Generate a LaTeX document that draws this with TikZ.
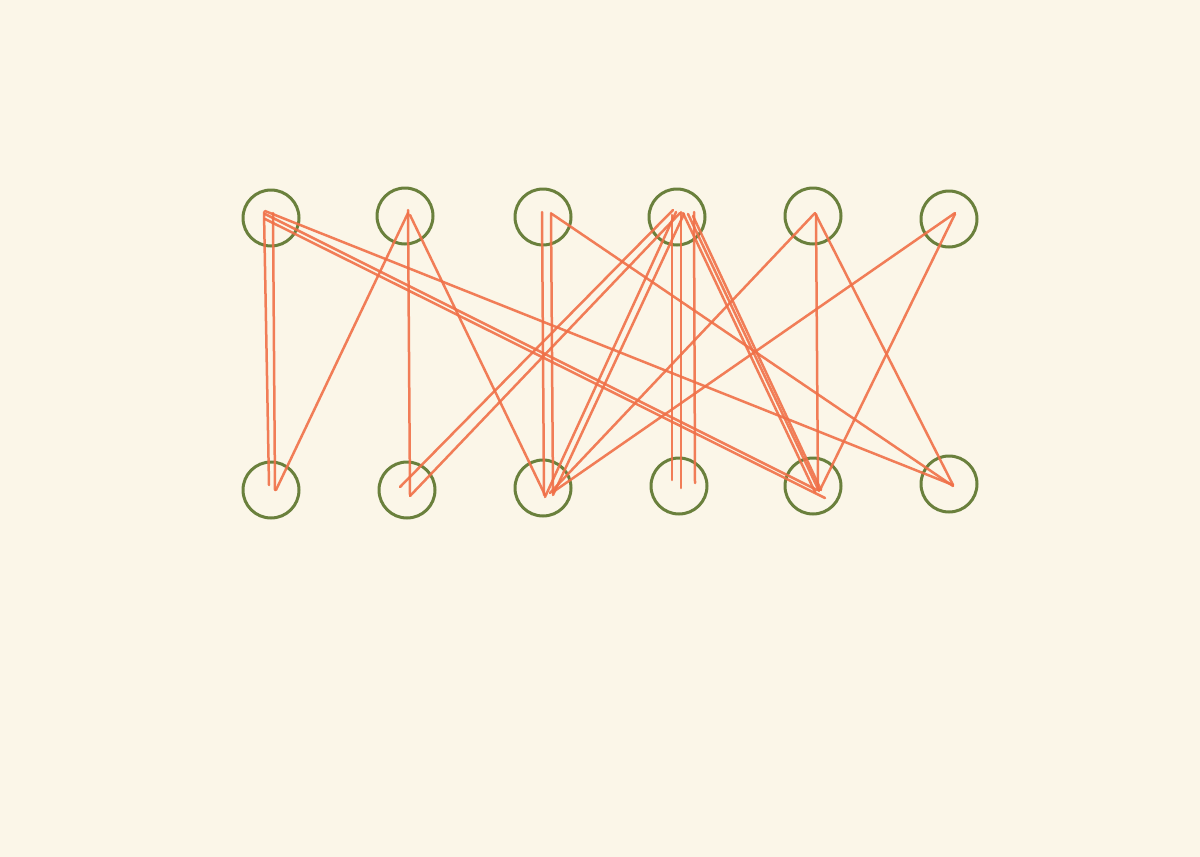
\documentclass[tikz,border=0pt]{standalone}
\definecolor{paper}{RGB}{251,246,232}
\definecolor{ringgreen}{RGB}{106,128,60}
\definecolor{ink}{RGB}{240,112,72}
\tikzset{
  ring/.style={circle,draw=ringgreen,line width=1.5pt,minimum size=28pt,inner sep=0pt},
  wire/.style={draw=ink,line width=1.25pt,opacity=0.9,line cap=round}
}
\begin{document}
\begin{tikzpicture}[x=0.5pt,y=-0.5pt]
\path[fill=paper,use as bounding box] (0,0) rectangle (1200,857);
% top row
\node[ring] (T1) at (271,218) {};
\node[ring] (T2) at (405,216) {};
\node[ring] (T3) at (543,217) {};
\node[ring] (T4) at (677,217) {};
\node[ring] (T5) at (813,216) {};
\node[ring] (T6) at (949,219) {};
% bottom row
\node[ring] (B1) at (271,490) {};
\node[ring] (B2) at (407,490) {};
\node[ring] (B3) at (543,488) {};
\node[ring] (B4) at (679,486) {};
\node[ring] (B5) at (813,486) {};
\node[ring] (B6) at (949,484) {};
% connectors
\draw[wire] ([shift={(-7,-6)}]T1.center) -- ([shift={(-2,-5)}]B1.center);
\draw[wire] ([shift={(2,-5)}]T1.center) -- ([shift={(4,0)}]B1.center);
\draw[wire] ([shift={(3,-3)}]T2.center) -- ([shift={(5,0)}]B1.center);
\draw[wire] ([shift={(3,-6)}]T2.center) -- ([shift={(3,5)}]B2.center);
\draw[wire] ([shift={(5,-1)}]T2.center) -- ([shift={(2,7)}]B3.center);
\draw[wire] ([shift={(-6,-7)}]T1.center) -- ([shift={(4,1)}]B6.center);
\draw[wire] ([shift={(-6,-4)}]T1.center) -- ([shift={(4,4)}]B5.center);
\draw[wire] ([shift={(-6,1)}]T1.center) -- ([shift={(12,12)}]B5.center);
\draw[wire] ([shift={(-1,-5)}]T3.center) -- ([shift={(1,7)}]B3.center);
\draw[wire] ([shift={(8,-4)}]T3.center) -- ([shift={(10,5)}]B3.center);
\draw[wire] ([shift={(9,-3)}]T3.center) -- ([shift={(4,2)}]B6.center);
\draw[wire] ([shift={(-4,-7)}]T4.center) -- ([shift={(-7,-3)}]B2.center);
\draw[wire] ([shift={(3,-4)}]T4.center) -- ([shift={(3,6)}]B2.center);
\draw[wire] ([shift={(-1,-5)}]T4.center) -- ([shift={(2,9)}]B3.center);
\draw[wire] ([shift={(7,-3)}]T4.center) -- ([shift={(10,7)}]B3.center);
\draw[wire] ([shift={(-5,-2)}]T4.center) -- ([shift={(-7,-6)}]B4.center);
\draw[wire] ([shift={(4,-5)}]T4.center) -- ([shift={(2,2)}]B4.center);
\draw[wire] ([shift={(17,-5)}]T4.center) -- ([shift={(16,-3)}]B4.center);
\draw[wire] ([shift={(6,-4)}]T4.center) -- ([shift={(2,6)}]B5.center);
\draw[wire] ([shift={(11,-3)}]T4.center) -- ([shift={(6,5)}]B5.center);
\draw[wire] ([shift={(16,-1)}]T4.center) -- ([shift={(8,4)}]B5.center);
\draw[wire] ([shift={(2,-3)}]T5.center) -- ([shift={(7,5)}]B3.center);
\draw[wire] ([shift={(3,-2)}]T5.center) -- ([shift={(5,4)}]B5.center);
\draw[wire] ([shift={(3,-1)}]T5.center) -- ([shift={(4,1)}]B6.center);
\draw[wire] ([shift={(6,-6)}]T6.center) -- ([shift={(10,4)}]B3.center);
\draw[wire] ([shift={(6,-5)}]T6.center) -- ([shift={(7,4)}]B5.center);
\end{tikzpicture}
\end{document}
